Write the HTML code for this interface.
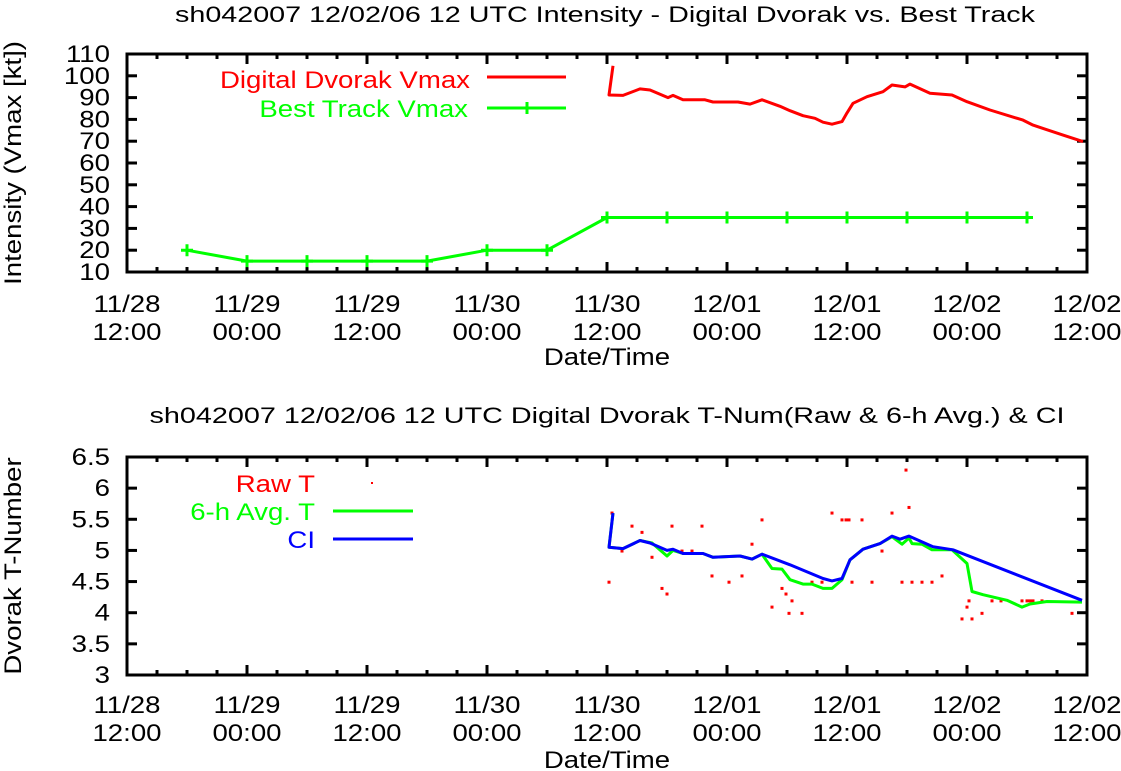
<!DOCTYPE html>
<html><head><meta charset="utf-8"><style>
html,body{margin:0;padding:0;background:#fff;}
svg{display:block;font-family:"Liberation Sans",sans-serif;}
</style></head><body>
<svg id="c" width="1121" height="771" viewBox="0 0 1121 771" xmlns="http://www.w3.org/2000/svg"></svg>
<script>
// hours since 11/28 12:00
const xTickTop = ["11/28","11/29","11/29","11/30","11/30","12/01","12/01","12/02","12/02"];
const xTickBot = ["12:00","00:00","12:00","00:00","12:00","00:00","12:00","00:00","12:00"];
const vmaxTicks = [10,20,30,40,50,60,70,80,90,100,110];
const tnumTicks = [3,3.5,4,4.5,5,5.5,6,6.5];
const ddHours = [48.6,48.2,49.6,51.3,52.3,54.1,54.6,55.6,57.8,58.6,61.1,62.3,63.5,65.3,66.3,67.6,68.8,69.6,70.5,71.5,72.0,72.6,74.0,75.6,76.5,77.8,78.3,80.3,82.5,84.0,86.3,89.6,90.6,93.6,95.6];
const ddVmax = [104.6,91.2,91,94,93.5,90,91,89,89,88,88,87,89,86,84,81.7,80.5,78.7,77.8,79,83,87.4,90.4,92.7,95.8,94.9,96.2,92,91.2,88.1,84.3,79.7,77.4,72.8,69.8];
const btHours = [6,12,18,24,30,36,42,48,54,60,66,72,78,84,90];
const btVmax = [20,15,15,15,15,20,20,35,35,35,35,35,35,35,35];
const ciHours = [48.6,48.2,49.6,51.3,52.3,54.0,54.6,55.6,57.6,58.6,61.3,62.5,63.5,66.3,69.6,70.5,71.5,72.3,73.6,75.3,76.5,77.3,78.2,80.6,82.6,95.5];
const ciVals = [5.6,5.05,5.03,5.16,5.12,5.0,5.02,4.95,4.95,4.89,4.91,4.86,4.94,4.77,4.55,4.51,4.55,4.85,5.02,5.11,5.23,5.18,5.23,5.06,5.01,4.2];
const avgHours = [48.6,48.2,49.6,51.3,52.5,54.0,54.6,55.6,57.6,58.6,61.3,62.5,63.5,64.5,65.5,66.3,67.6,68.5,69.6,70.5,71.5,72.3,73.6,75.3,76.5,77.5,78.2,78.5,79.5,80.5,82.5,84.0,84.5,85.6,88.0,89.5,90.3,92.0,95.5];
const avgVals = [5.6,5.05,5.03,5.16,5.12,4.91,5.0,4.95,4.95,4.89,4.91,4.86,4.94,4.71,4.70,4.53,4.46,4.46,4.39,4.39,4.53,4.85,5.02,5.11,5.22,5.1,5.2,5.11,5.1,5.01,5.01,4.79,4.34,4.29,4.2,4.09,4.14,4.18,4.17];
const rawHours = [48.2,48.5,49.5,50.5,51.5,52.5,53.5,54.0,54.5,55.5,56.5,57.5,58.5,60.2,61.5,62.5,63.5,64.5,65.5,65.9,66.5,66.2,67.5,68.5,69.5,70.5,71.5,71.9,72.2,72.5,73.5,74.5,75.5,76.5,77.5,77.9,78.2,78.5,79.5,80.5,81.5,83.5,84.0,84.2,84.5,85.5,86.5,87.4,89.5,90.0,90.3,90.6,91.5,94.5];
const rawVals = [4.49,5.6,4.99,5.39,5.29,4.89,4.39,4.3,5.39,4.99,4.99,5.39,4.59,4.49,4.59,5.1,5.49,4.09,4.39,4.3,4.19,3.99,3.99,4.49,4.49,5.6,5.49,5.49,5.49,4.49,5.49,4.49,4.99,5.6,4.49,6.29,5.69,4.49,4.49,4.49,4.59,3.9,4.09,4.19,3.9,3.99,4.19,4.19,4.19,4.19,4.19,4.19,4.19,3.99];

const NS="http://www.w3.org/2000/svg", svg=document.getElementById('c');
function el(tag, attrs, parent){const e=document.createElementNS(NS,tag);for(const k in attrs)e.setAttribute(k,attrs[k]);(parent||svg).appendChild(e);return e;}
const L=127,R=1087;
const xs=h=>L+(R-L)*h/96;
const pTop={t:54,b:272,min:10,max:110}, pBot={t:457,b:675,min:3,max:6.5};
const ys=(p,v)=>p.b-(p.b-p.t)*(v-p.min)/(p.max-p.min);
function txt(x,y,s,size,anchor,fill,name,len){const t=el('text',{x:x,y:y,'font-size':size,'text-anchor':anchor||'middle',fill:fill||'#000'});t.textContent=s;


t.setAttribute('xml:space','preserve');
const n=t.getComputedTextLength();
t.setAttribute('textLength',len||n*1.15);
t.setAttribute('lengthAdjust','spacingAndGlyphs');
return t;}
function poly(p,hs,vs,color,name){const pts=hs.map((h,i)=>xs(h).toFixed(1)+','+ys(p,vs[i]).toFixed(1)).join(' ');const e=el('polyline',{points:pts,fill:'none',stroke:color,'stroke-width':3,'stroke-linejoin':'round'});


return e;}

function axes(p,ticks,pre,labY){
  const f=el('rect',{x:L,y:p.t,width:R-L,height:p.b-p.t,fill:'none',stroke:'#000','stroke-width':3});
  
  
  for(let h=0;h<=96;h+=3){const x=xs(h),len=(h%12===0)?10:5;
    el('line',{x1:x,y1:p.b,x2:x,y2:p.b-len,stroke:'#000','stroke-width':3});
    el('line',{x1:x,y1:p.t,x2:x,y2:p.t+len,stroke:'#000','stroke-width':3});}
  for(let i=0;i<9;i++){txt(xs(i*12),labY,xTickTop[i],24,'middle','#000',pre+'-x-tick-date');txt(xs(i*12),labY+28,xTickBot[i],24,'middle','#000',pre+'-x-tick-time');}
  ticks.forEach(v=>{const y=ys(p,v);
    el('line',{x1:L,y1:y,x2:L+10,y2:y,stroke:'#000','stroke-width':3});
    el('line',{x1:R,y1:y,x2:R-10,y2:y,stroke:'#000','stroke-width':3});
    txt(110,y+8,String(v),24,'end','#000',pre+'-y-tick');});
}
txt(605,22,"sh042007 12/02/06  12 UTC Intensity - Digital Dvorak vs. Best Track",22,'middle','#000','top-chart-title',860);
axes(pTop,vmaxTicks,'top',312);
txt(607,365,"Date/Time",24,'middle','#000','top-x-axis-title');
let yt=txt(0,0,"Intensity (Vmax [kt])",24,'middle','#000','top-y-axis-title');yt.setAttribute('transform','translate(21,163) rotate(-90)');
poly(pTop,ddHours,ddVmax,'#f00','digital-dvorak-vmax-line');
poly(pTop,btHours,btVmax,'#0f0','best-track-vmax-line');
btHours.forEach((h,i)=>{const x=xs(h),y=ys(pTop,btVmax[i]);const g=el('path',{d:`M${x-6} ${y}H${x+6}M${x} ${y-6}V${y+6}`,stroke:'#0f0','stroke-width':3});

});
txt(470,88,"Digital Dvorak Vmax",24,'end','#f00','legend-digital-dvorak');
el('line',{x1:487,y1:77,x2:566,y2:77,stroke:'#f00','stroke-width':3});
txt(468,117,"Best Track Vmax",24,'end','#0f0','legend-best-track');
el('path',{d:'M487 108H566M527 102V114',stroke:'#0f0','stroke-width':3,fill:'none'});

txt(607,423,"sh042007 12/02/06  12 UTC Digital Dvorak T-Num(Raw & 6-h Avg.) & CI",22,'middle','#000','bottom-chart-title',915);
axes(pBot,tnumTicks,'bottom',713);
txt(607,768,"Date/Time",24,'middle','#000','bottom-x-axis-title');
let yb=txt(0,0,"Dvorak T-Number",24,'middle','#000','bottom-y-axis-title');yb.setAttribute('transform','translate(21,566) rotate(-90)');
rawHours.forEach((h,i)=>{const r=el('rect',{x:xs(h)-1.5,y:ys(pBot,rawVals[i])-1.5,width:3,height:3,fill:'#f00'});

});
poly(pBot,avgHours,avgVals,'#0f0','avg-t-line');
poly(pBot,ciHours,ciVals,'#00f','ci-line');
txt(315,492,"Raw T",24,'end','#f00','legend-raw-t');
el('rect',{x:371,y:482,width:2,height:2,fill:'#f00'});
txt(315,520,"6-h Avg. T",24,'end','#0f0','legend-avg-t');
el('line',{x1:333,y1:511,x2:413,y2:511,stroke:'#0f0','stroke-width':3});
txt(315,548,"CI",24,'end','#00f','legend-ci');
el('line',{x1:333,y1:539,x2:413,y2:539,stroke:'#00f','stroke-width':3});
</script>
</body></html>
